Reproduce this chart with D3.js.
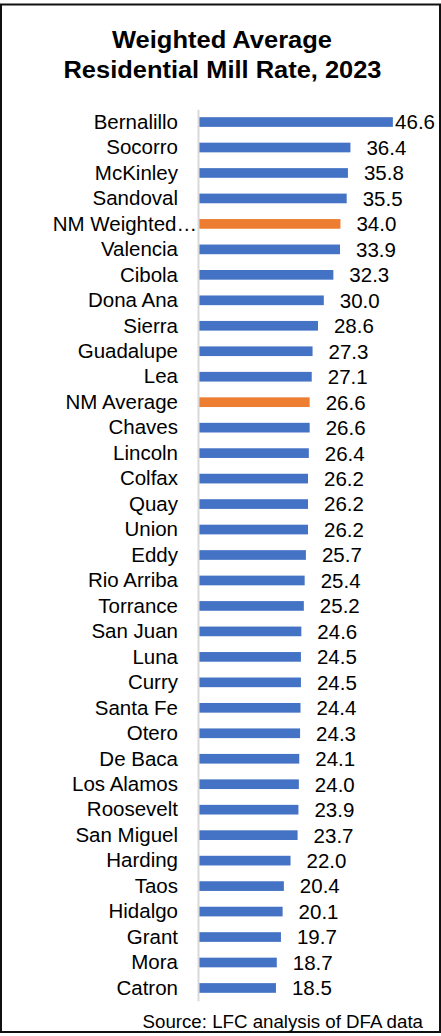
<!DOCTYPE html>
<html>
<head>
<meta charset="utf-8">
<script src="https://cdn.jsdelivr.net/npm/d3@7"></script>
<style>
  html, body { margin: 0; padding: 0; background: #fff; }
  svg { display: block; font-family: "Liberation Sans", Arial, sans-serif; }
</style>
</head>
<body>
<svg id="chart" width="441" height="1036"></svg>
<script>
// chart data
var counties = ["Bernalillo", "Socorro", "McKinley", "Sandoval", "NM Weighted\u2026", "Valencia",
  "Cibola", "Dona Ana", "Sierra", "Guadalupe", "Lea", "NM Average", "Chaves", "Lincoln",
  "Colfax", "Quay", "Union", "Eddy", "Rio Arriba", "Torrance", "San Juan", "Luna", "Curry",
  "Santa Fe", "Otero", "De Baca", "Los Alamos", "Roosevelt", "San Miguel", "Harding", "Taos",
  "Hidalgo", "Grant", "Mora", "Catron"];
var millRates = [46.6, 36.4, 35.8, 35.5, 34.0, 33.9, 32.3, 30.0, 28.6, 27.3, 27.1, 26.6, 26.6,
  26.4, 26.2, 26.2, 26.2, 25.7, 25.4, 25.2, 24.6, 24.5, 24.5, 24.4, 24.3, 24.1, 24.0, 23.9,
  23.7, 22.0, 20.4, 20.1, 19.7, 18.7, 18.5];
var averages = ["NM Weighted\u2026", "NM Average"];
var xDomain = [0, 50];

var svg = d3.select("#chart");

var rows = counties.map(function(c, i) { return {name: c, value: millRates[i]}; });

var x = d3.scaleLinear().domain(xDomain).range([199, 407]);
var y = d3.scaleBand().domain(counties).range([109.3, 1000.7]).paddingInner(0.62).paddingOuter(0.31);

// frame
svg.append("rect")
  .attr("x", 1).attr("y", 4.5)
  .attr("width", 439).attr("height", 1027.5)
  .attr("fill", "none")
  .attr("stroke", "#111")
  .attr("stroke-width", 2);

// title
var title = svg.append("text")
  .attr("text-anchor", "middle")
  .attr("font-weight", "bold")
  .attr("font-size", 23)
  .attr("fill", "#000");
title.append("tspan").attr("x", 222).attr("y", 48)
  .attr("textLength", 220).attr("lengthAdjust", "spacingAndGlyphs")
  .text("Weighted Average");
title.append("tspan").attr("x", 222.5).attr("y", 78)
  .attr("textLength", 318).attr("lengthAdjust", "spacingAndGlyphs")
  .text("Residential Mill Rate, 2023");

// bars
svg.append("g")
  .selectAll("rect")
  .data(rows)
  .enter().append("rect")
    .attr("x", x(0))
    .attr("y", function(d) { return y(d.name); })
    .attr("width", function(d) { return x(d.value) - x(0); })
    .attr("height", y.bandwidth())
    .attr("fill", function(d) { return averages.indexOf(d.name) != -1 ? "#ED7D31" : "#4472C4"; });

// vertical axis line + category labels
var yAxis = svg.append("g")
  .attr("transform", "translate(198,0)")
  .call(d3.axisLeft(y).tickSize(0).tickPadding(20));
yAxis.select(".domain").attr("stroke", "#d9d9d9").attr("stroke-width", 2);
yAxis.selectAll("text")
  .attr("font-family", "'Liberation Sans', Arial, sans-serif")
  .attr("font-size", 20.5)
  .attr("fill", "#000")
  .attr("dy", "0.33em");
// truncated label runs up to the axis, as Excel draws it
yAxis.selectAll(".tick text")
  .filter(function(d) { return d.slice(-1) == "\u2026"; })
  .attr("x", -1);

// value labels
svg.append("g")
  .selectAll("text")
  .data(rows)
  .enter().append("text")
    .attr("y", function(d) { return y(d.name) + y.bandwidth() / 2; })
    .attr("dy", "0.36em")
    .attr("font-size", 20.5)
    .attr("fill", "#000")
    .text(function(d) { return d.value.toFixed(1); })
    .attr("x", function(d) {
      var w = this.getComputedTextLength(),
        lx = x(d.value) + 16;
      if (lx + w > 435) lx = 435 - w;
      return lx;
    });

// source note
svg.append("text")
  .attr("x", 423).attr("y", 1027.5)
  .attr("text-anchor", "end")
  .attr("font-size", 18.7)
  .attr("fill", "#000")
  .text("Source: LFC analysis of DFA data");
</script>
</body>
</html>
